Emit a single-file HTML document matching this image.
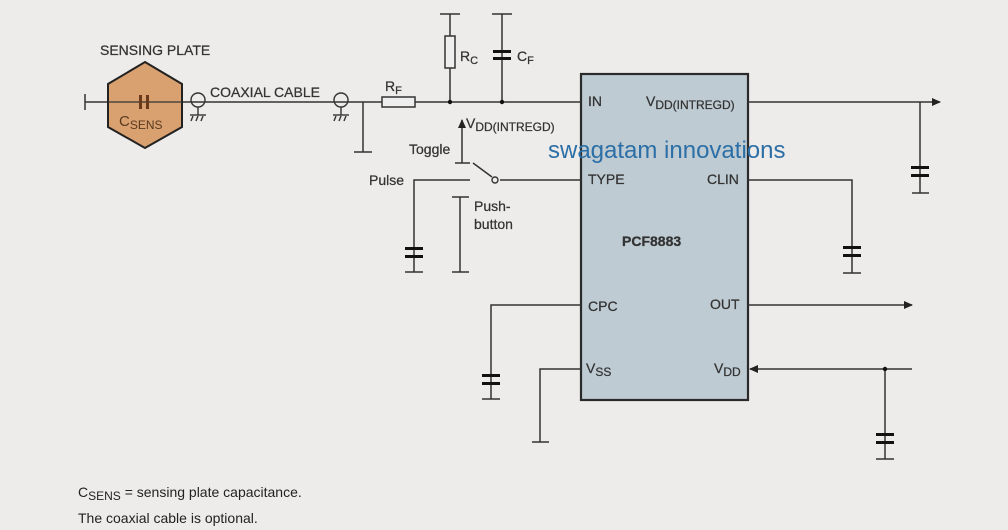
<!DOCTYPE html>
<html><head><style>
body{margin:0;background:#eeecea;}
svg{display:block;font-family:"Liberation Sans",sans-serif;}
</style></head><body>
<svg width="1008" height="530" viewBox="0 0 1008 530" xmlns="http://www.w3.org/2000/svg">
<rect width="1008" height="530" fill="#eeecea"/>
<defs><marker id="ar" markerWidth="9" markerHeight="8" refX="8" refY="4" orient="auto" markerUnits="userSpaceOnUse"><path d="M0,0 L9,4 L0,8z" fill="#222"/></marker></defs>
<rect x="581" y="74" width="167" height="326" fill="#bfcbd3" stroke="#2a2a2a" stroke-width="2.2"/>
<g stroke="#333" stroke-width="1.5" fill="none">
<line x1="85" y1="102" x2="581" y2="102"/>
<line x1="85" y1="94" x2="85" y2="110"/>
<line x1="363" y1="102" x2="363" y2="152"/><line x1="354" y1="152" x2="372" y2="152"/>
<line x1="450" y1="102" x2="450" y2="14"/><line x1="440" y1="14" x2="460" y2="14"/>
<line x1="502" y1="102" x2="502" y2="14"/><line x1="492" y1="14" x2="512" y2="14"/>
<line x1="748" y1="102" x2="940" y2="102" marker-end="url(#ar)"/>
<line x1="920" y1="102" x2="920" y2="193"/><line x1="912" y1="193" x2="929" y2="193"/>
<polyline points="748,180 852,180 852,273"/><line x1="843" y1="273" x2="861" y2="273"/>
<line x1="748" y1="305" x2="912" y2="305" marker-end="url(#ar)"/>
<line x1="912" y1="369" x2="750" y2="369" marker-end="url(#ar)"/>
<line x1="885" y1="369" x2="885" y2="459"/><line x1="876" y1="459" x2="894" y2="459"/>
<polyline points="581,305 491,305 491,399"/><line x1="482" y1="399" x2="500" y2="399"/>
<polyline points="581,369 540,369 540,442"/><line x1="532" y1="442" x2="549" y2="442"/>
<line x1="500" y1="180" x2="581" y2="180"/>
<line x1="473" y1="163" x2="492" y2="177"/>
<line x1="455" y1="163" x2="470" y2="163"/>
<line x1="462" y1="163" x2="462" y2="120" marker-end="url(#ar)"/>
<polyline points="470,180 414,180 414,272"/><line x1="405" y1="272" x2="423" y2="272"/>
<line x1="460" y1="197" x2="460" y2="272"/><line x1="452" y1="197" x2="469" y2="197"/><line x1="452" y1="272" x2="469" y2="272"/>
</g>
<g fill="#111">
<rect x="911" y="166" width="18" height="3"/><rect x="911" y="174" width="18" height="3"/>
<rect x="843" y="246" width="18" height="3"/><rect x="843" y="254" width="18" height="3"/>
<rect x="876" y="433" width="18" height="3"/><rect x="876" y="441" width="18" height="3"/>
<rect x="482" y="374" width="18" height="3"/><rect x="482" y="382" width="18" height="3"/>
<rect x="405" y="247" width="18" height="3"/><rect x="405" y="255" width="18" height="3"/>
<rect x="493" y="50" width="18" height="3"/><rect x="493" y="57" width="18" height="3"/>
<circle cx="450" cy="102" r="2.2"/><circle cx="502" cy="102" r="2.2"/><circle cx="885" cy="369" r="2.2"/>
</g>
<circle cx="495" cy="180" r="3" fill="#eee" stroke="#333" stroke-width="1.4"/>
<rect x="382" y="97" width="33" height="10" fill="#eee" stroke="#333" stroke-width="1.5"/>
<rect x="445" y="36" width="10" height="32" fill="#eee" stroke="#333" stroke-width="1.5"/>
<polygon points="145,62 182,84 182,127 145,148 108,127 108,84" fill="#d9a070" stroke="#222" stroke-width="2"/>
<line x1="108" y1="102" x2="182" y2="102" stroke="#333" stroke-width="1.3"/>
<rect x="139" y="95" width="3" height="14" fill="#6b3a1a"/><rect x="146" y="95" width="3" height="14" fill="#6b3a1a"/>
<g stroke="#333" stroke-width="1.4" fill="none">
<circle cx="198" cy="100" r="7"/><circle cx="341" cy="100" r="7"/>
<line x1="198" y1="107" x2="198" y2="115"/><line x1="190" y1="115" x2="206" y2="115"/>
<line x1="191" y1="121" x2="193" y2="116"/><line x1="196" y1="121" x2="198" y2="116"/><line x1="201" y1="121" x2="203" y2="116"/>
<line x1="341" y1="107" x2="341" y2="115"/><line x1="333" y1="115" x2="349" y2="115"/>
<line x1="334" y1="121" x2="336" y2="116"/><line x1="339" y1="121" x2="341" y2="116"/><line x1="344" y1="121" x2="346" y2="116"/>
</g>
<g fill="#333" font-size="14" stroke="#333" stroke-width="0.25">
<text x="100" y="55" font-size="14">SENSING PLATE</text>
<text x="119" y="126" font-size="15" fill="#5a3a20" stroke="none">C<tspan font-size="12" dy="3">SENS</tspan></text>
<text x="210" y="97">COAXIAL CABLE</text>
<text x="385" y="91">R<tspan font-size="11" dy="3">F</tspan></text>
<text x="460" y="61">R<tspan font-size="11" dy="3">C</tspan></text>
<text x="517" y="61">C<tspan font-size="11" dy="3">F</tspan></text>
<text x="466" y="128">V<tspan font-size="12" dy="3">DD(INTREGD)</tspan></text>
<text x="409" y="154">Toggle</text>
<text x="369" y="185">Pulse</text>
<text x="474" y="211">Push-</text>
<text x="474" y="229">button</text>
<text x="588" y="106">IN</text>
<text x="646" y="106">V<tspan font-size="12" dy="3">DD(INTREGD)</tspan></text>
<text x="588" y="184">TYPE</text>
<text x="707" y="184">CLIN</text>
<text x="622" y="246" font-weight="bold">PCF8883</text>
<text x="588" y="311">CPC</text>
<text x="710" y="309">OUT</text>
<text x="586" y="373">V<tspan font-size="12" dy="3">SS</tspan></text>
<text x="714" y="373">V<tspan font-size="12" dy="3">DD</tspan></text>
</g>
<g fill="#222" font-size="14">
<text x="78" y="497">C<tspan font-size="12" dy="3">SENS</tspan><tspan dy="-3"> = sensing plate capacitance.</tspan></text>
<text x="78" y="523">The coaxial cable is optional.</text>
</g>
<text x="548" y="158" font-size="24" fill="#2b6fa6">swagatam innovations</text>
</svg>
</body></html>
